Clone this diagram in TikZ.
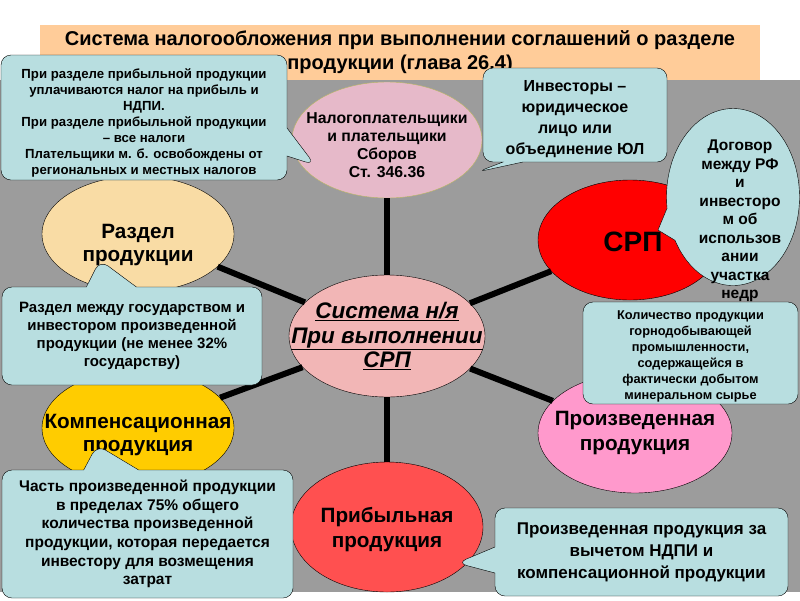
\documentclass[tikz,border=0pt]{standalone}
\usepackage{fontspec}
\setmainfont{Liberation Sans}
\usetikzlibrary{shapes.geometric,shapes.callouts}

\definecolor{granito}{HTML}{9C9C9C}
\definecolor{durazno}{HTML}{FFCC99}
\definecolor{celeste}{HTML}{B8DEE0}
\definecolor{rosaCentro}{HTML}{F2B6B6}
\definecolor{lila}{HTML}{E6B9C9}
\definecolor{oliva}{HTML}{B8B860}
\definecolor{trigo}{HTML}{F9DCA5}
\definecolor{oro}{HTML}{FFCC00}
\definecolor{rosa}{HTML}{FF99CC}
\definecolor{coral}{HTML}{FF5050}

\newcommand{\tam}[2]{\fontsize{#1}{#2}\selectfont}

\begin{document}
\begin{tikzpicture}[x=1pt, y=-1pt,
    elipse/.style={draw, ellipse, inner sep=0pt, minimum width=192pt, minimum height=116pt},
    nota/.style={draw, fill=celeste, rounded corners=10pt, inner sep=0pt, align=center, font=\bfseries},
    rayo/.style={line width=6pt}]
    \useasboundingbox (0,0) rectangle (800,600);

    % --- Fondo gris y titulo ---
    \fill[granito] (0,80) rectangle (800,592);
    \node[fill=durazno, minimum width=720pt, minimum height=55pt, inner sep=0pt,
          align=center, font=\bfseries\tam{20}{24}] (Titulo) at (400,52.5)
          {Система налогообложения при выполнении соглашений о разделе\\продукции (глава 26.4)};

    % --- Elipses de la red ---
    \node[elipse, fill=rosaCentro, minimum width=196pt, minimum height=122pt,
          label={[name=CentroTxt, align=center, font=\bfseries\itshape\tam{22.5}{24.5}]center:{\underline{Система н/я}\\\underline{При выполнении}\\\underline{СРП}}}]
          (Centro) at (387,336) {};
    \node[elipse, draw=oliva, fill=lila, minimum width=190pt,
          label={[name=NalogTxt, yshift=-5pt, align=center, font=\bfseries\tam{15.8}{18}]center:{Налогоплательщики\\и плательщики\\Сборов\\Ст. 346.36}}]
          (Nalog) at (387,140) {};
    \node[elipse, fill=trigo,
          label={[name=RazdelTxt, yshift=-11pt, align=center, font=\bfseries\tam{20.7}{23.5}]center:{Раздел\\продукции}}]
          (Razdel) at (138,234) {};
    \node[elipse, fill=red, minimum width=184pt, minimum height=120pt,
          label={[name=SRPTxt, xshift=3pt, yshift=-2pt, font=\bfseries\tam{28}{30}]center:{СРП}}]
          (SRP) at (630,240) {};
    \node[elipse, fill=oro,
          label={[name=KompensTxt, yshift=-7pt, align=center, font=\bfseries\tam{20.7}{23.5}]center:{Компенсационная\\продукция}}]
          (Kompens) at (138,428) {};
    \node[elipse, fill=rosa, minimum width=194pt, minimum height=120pt,
          label={[name=ProizvTxt, align=center, font=\bfseries\tam{20.7}{24.5}]center:{Произведенная\\продукция}}]
          (Proizv) at (635,433) {};
    \node[elipse, fill=coral, minimum height=130pt,
          label={[name=PribylTxt, yshift=-3pt, align=center, font=\bfseries\tam{20.7}{25}]center:{Прибыльная\\продукция}}]
          (Pribyl) at (387,527) {};

    % --- Rayos desde el centro ---
    \draw[rayo] (Centro) -- (Nalog);
    \draw[rayo] (Centro) -- (Razdel);
    \draw[rayo] (Centro) -- (SRP);
    \draw[rayo] (Centro) -- (Kompens);
    \draw[rayo] (Centro) -- (Proizv);
    \draw[rayo] (Centro) -- (Pribyl);

    % --- Notas (llamadas) ---
    \node[nota, rectangle callout, callout absolute pointer={(315,165)}, callout pointer width=28pt,
          minimum width=286pt, minimum height=125pt, font=\bfseries\tam{13.2}{16}]
          (NotaNalog) at (144,117.5)
          {\rule{0pt}{20pt}При разделе прибыльной продукции\\уплачиваются налог на прибыль и\\НДПИ.\\При разделе прибыльной продукции\\– все налоги\\Плательщики м. б. освобождены от\\региональных и местных налогов};
    \node[nota, rectangle callout, callout absolute pointer={(477,172)}, callout pointer width=20pt,
          minimum width=184pt, minimum height=94pt, font=\bfseries\tam{16}{21}]
          (NotaInvest) at (575,115)
          {\rule{0pt}{19pt}Инвесторы –\\юридическое\\лицо или\\объединение ЮЛ};
    \node[draw, fill=celeste, ellipse callout, callout absolute pointer={(658,230)}, callout pointer arc=22,
          inner sep=0pt, minimum width=133pt, minimum height=177pt,
          label={[name=DogovorTxt, xshift=7pt, yshift=-24pt, align=center, font=\bfseries\tam{15.5}{18.5}]center:{Договор\\между РФ\\и\\инвесторо\\м об\\использов\\ании\\участка\\недр}}]
          (NotaDogovor) at (733,197) {};
    \node[nota, rectangle callout, callout absolute pointer={(100,260)}, callout pointer width=50pt,
          minimum width=260pt, minimum height=98pt, font=\bfseries\tam{15}{18}]
          (NotaRazdel) at (132,336)
          {Раздел между государством и\\инвестором произведенной\\продукции (не менее 32\%\\государству)};
    \node[nota, minimum width=215pt, minimum height=102pt, font=\bfseries\tam{12.8}{16}]
          (NotaKolich) at (690.5,353)
          {\rule{0pt}{15pt}Количество продукции\\горнодобывающей\\промышленности,\\содержащейся в\\фактически добытом\\минеральном сырье};
    \node[nota, rectangle callout, callout absolute pointer={(97,445)}, callout pointer width=55pt,
          minimum width=291pt, minimum height=128pt, font=\bfseries\tam{15.5}{18.6}]
          (NotaKompens) at (147.5,534)
          {Часть произведенной продукции\\в пределах 75\% общего\\количества произведенной\\продукции, которая передается\\инвестору для возмещения\\затрат};
    \node[nota, rectangle callout, callout absolute pointer={(457,563)}, callout pointer width=26pt,
          minimum width=293pt, minimum height=88pt, font=\bfseries\tam{17}{22}]
          (NotaPribyl) at (641.5,552)
          {Произведенная продукция за\\вычетом НДПИ и\\компенсационной продукции};

\end{tikzpicture}
\end{document}
